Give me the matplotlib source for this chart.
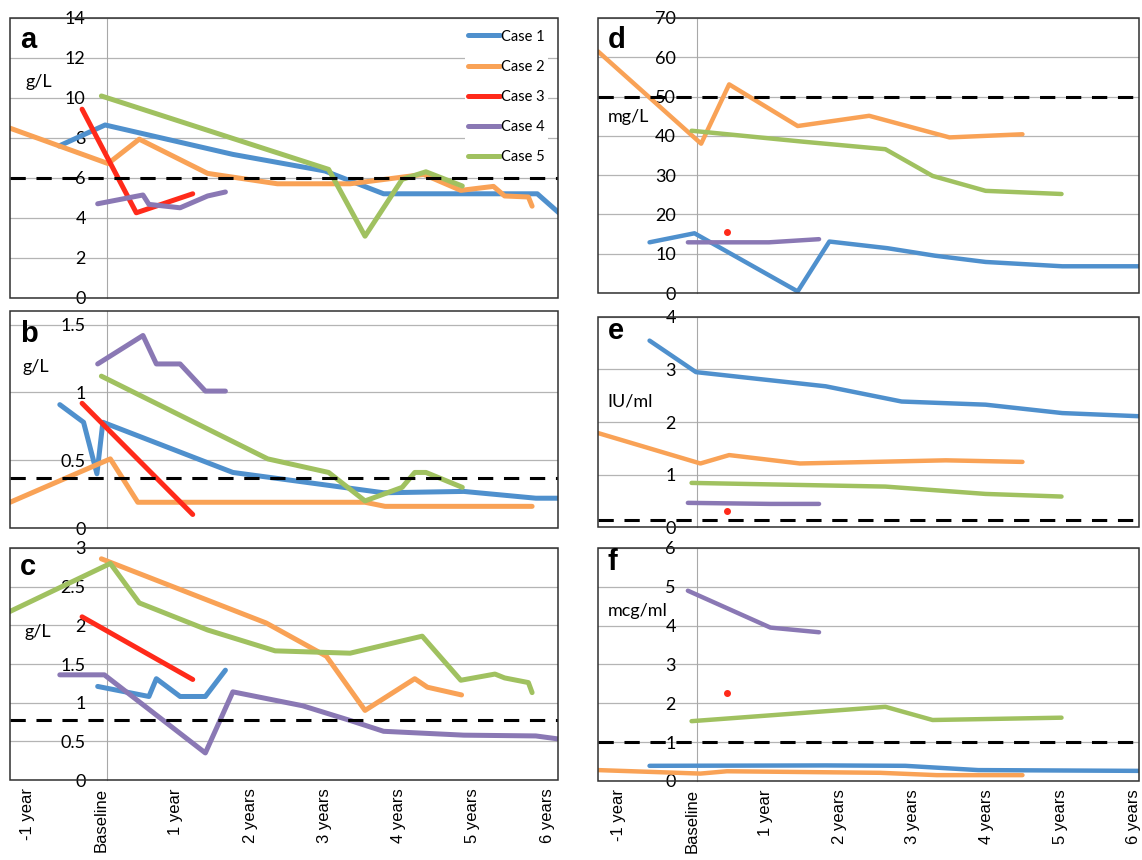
import matplotlib
matplotlib.use('Agg')
import matplotlib.pyplot as plt
import matplotlib.transforms as mtransforms
from matplotlib.patches import Rectangle
from matplotlib.ticker import FuncFormatter

# time in years from baseline
# panel a (g/L)
a1_t = [-0.64, -0.02, 1.70, 2.94, 3.73, 5.80, 6.09]
a1_v = [7.6, 8.65, 7.18, 6.35, 5.21, 5.21, 4.26]
a2_t = [-1.30, 0.02, 0.44, 1.36, 2.30, 3.28, 4.27, 4.77, 5.21, 5.36, 5.68, 5.73]
a2_v = [8.49, 6.72, 7.94, 6.23, 5.71, 5.71, 6.18, 5.38, 5.58, 5.10, 5.05, 4.59]
a3_t = [-0.33, 0.40, 1.16]
a3_v = [9.44, 4.26, 5.21]
a4_t = [-0.12, 0.49, 0.57, 0.99, 1.36, 1.60]
a4_v = [4.71, 5.15, 4.68, 4.51, 5.10, 5.30]
a5_t = [-0.07, 2.99, 3.48, 3.98, 4.30, 4.79]
a5_v = [10.1, 6.43, 3.09, 5.93, 6.31, 5.60]
# panel b (g/L)
b1_t = [-0.63, -0.31, -0.13, -0.05, 1.70, 3.73, 4.81, 5.78, 6.09]
b1_v = [0.91, 0.78, 0.40, 0.78, 0.41, 0.26, 0.27, 0.22, 0.22]
b2_t = [-1.30, 0.05, 0.42, 3.48, 3.75, 5.73]
b2_v = [0.19, 0.51, 0.19, 0.19, 0.16, 0.16]
b3_t = [-0.33, 1.16]
b3_v = [0.92, 0.10]
b4_t = [-0.12, 0.49, 0.67, 0.99, 1.33, 1.60]
b4_v = [1.21, 1.42, 1.21, 1.21, 1.01, 1.01]
b5_t = [-0.07, 2.17, 2.99, 3.48, 3.98, 4.15, 4.30, 4.79]
b5_v = [1.12, 0.51, 0.41, 0.20, 0.30, 0.41, 0.41, 0.30]
# panel c (g/L)
c1_t = [-0.12, 0.57, 0.67, 0.99, 1.33, 1.60]
c1_v = [1.21, 1.08, 1.31, 1.08, 1.08, 1.42]
c2_t = [-0.07, 2.15, 2.96, 3.48, 4.15, 4.32, 4.78]
c2_v = [2.86, 2.03, 1.60, 0.90, 1.31, 1.20, 1.10]
c3_t = [-0.33, 1.16]
c3_v = [2.11, 1.30]
c4_t = [-0.63, -0.03, 1.33, 1.70, 2.64, 3.28, 3.73, 4.81, 5.78, 6.09]
c4_v = [1.36, 1.36, 0.35, 1.14, 0.96, 0.77, 0.63, 0.58, 0.57, 0.53]
c5_t = [-1.30, 0.05, 0.44, 1.36, 2.27, 3.28, 4.25, 4.77, 5.23, 5.36, 5.68, 5.73]
c5_v = [2.18, 2.80, 2.29, 1.94, 1.67, 1.64, 1.86, 1.29, 1.37, 1.32, 1.26, 1.13]
# panel d (mg/L)
d1_t = [-0.64, -0.03, 1.37, 1.80, 2.59, 3.23, 3.92, 4.96, 6.0]
d1_v = [12.9, 15.2, 0.4, 13.1, 11.4, 9.5, 7.9, 6.8, 6.8]
d2_t = [-1.34, 0.06, 0.44, 1.37, 2.34, 3.43, 4.42]
d2_v = [61.5, 38.0, 53.1, 42.5, 45.1, 39.6, 40.4]
d3_t = [0.41]
d3_v = [15.4]
d4_t = [-0.12, 0.98, 1.66]
d4_v = [12.9, 12.9, 13.7]
d5_t = [-0.07, 1.45, 2.56, 3.20, 3.92, 4.95]
d5_v = [41.3, 38.5, 36.6, 29.8, 26.0, 25.2]
# panel e (IU/ml)
e1_t = [-0.64, -0.01, 1.75, 2.78, 3.92, 4.96, 6.0]
e1_v = [3.55, 2.95, 2.68, 2.39, 2.33, 2.17, 2.11]
e2_t = [-1.34, 0.05, 0.44, 1.40, 3.38, 4.42]
e2_v = [1.79, 1.21, 1.37, 1.21, 1.27, 1.24]
e3_t = [0.41]
e3_v = [0.30]
e4_t = [-0.12, 1.0, 1.66]
e4_v = [0.46, 0.44, 0.44]
e5_t = [-0.07, 2.56, 3.92, 4.95]
e5_v = [0.84, 0.77, 0.63, 0.58]
# panel f (mcg/ml)
f1_t = [-0.64, 1.75, 2.83, 3.82, 6.0]
f1_v = [0.39, 0.40, 0.39, 0.28, 0.26]
f2_t = [-1.34, 0.05, 0.41, 2.49, 3.26, 4.42]
f2_v = [0.28, 0.19, 0.25, 0.21, 0.15, 0.15]
f3_t = [0.41]
f3_v = [2.27]
f4_t = [-0.12, 1.0, 1.66]
f4_v = [4.90, 3.95, 3.83]
f5_t = [-0.07, 2.56, 3.20, 4.95]
f5_v = [1.54, 1.91, 1.57, 1.63]

case_names = ['Case 1', 'Case 2', 'Case 3', 'Case 4', 'Case 5']
case_colors = ['#4F90CD', '#F9A256', '#FF2A1A', '#8A78B4', '#A0C160']

x_ticks = [-1, 0, 1, 2, 3, 4, 5, 6]
x_labels = ['-1 year', 'Baseline', '1 year', '2 years', '3 years', '4 years', '5 years', '6 years']

fig = plt.figure(figsize=(11.42, 8.6), dpi=100)


def panel(rect, letter, unit, unit_xy, series, ymax, yticks, ref, xlim, lw, show_x, letter_y):
    ax = fig.add_axes(rect)
    for i, (t, v) in enumerate(series):
        if len(t) == 1:
            ax.plot(t, v, 'o', color=case_colors[i], ms=4, label=case_names[i])
        else:
            ax.plot(t, v, color=case_colors[i], lw=lw, solid_capstyle='round',
                    solid_joinstyle='round', label=case_names[i])
    ax.axhline(ref, color='black', lw=2.2, dashes=(5, 3.5), zorder=3)
    ax.set_xlim(xlim)
    ax.set_ylim(0, ymax)
    ax.set_yticks(yticks)
    ax.yaxis.set_major_formatter(FuncFormatter(lambda v, p: '{:g}'.format(v)))
    ax.grid(axis='y', color='#B4B4B4', lw=0.9)
    ax.set_axisbelow(True)
    # y axis sits at baseline like in Excel
    ax.spines['left'].set_position(('data', 0))
    ax.spines['left'].set_color('#A8A8A8')
    ax.spines['left'].set_zorder(1)
    for s in ['top', 'right', 'bottom']:
        ax.spines[s].set_visible(False)
    ax.add_patch(Rectangle((0, 0), 1, 1, transform=ax.transAxes, fill=False,
                           ec='#303030', lw=1.1, zorder=5, clip_on=False))
    ax.tick_params(axis='y', length=0, pad=15, labelsize=13)
    for lab in ax.get_yticklabels():
        lab.set_fontfamily('Lato')
    ax.set_xticks(x_ticks)
    if show_x:
        ax.set_xticklabels(x_labels, rotation=90, fontsize=12, family='Liberation Sans')
        ax.tick_params(axis='x', length=0, pad=6)
        shift = mtransforms.ScaledTranslation(-5 / 100, 0, fig.dpi_scale_trans)
        for lab in ax.get_xticklabels():
            lab.set_transform(lab.get_transform() + shift)
    else:
        ax.set_xticklabels([])
        ax.tick_params(axis='x', length=0)
    ax.text(0.018, letter_y, letter, transform=ax.transAxes, fontsize=21,
            fontweight='bold', family='Liberation Sans', ha='left', va='top', zorder=6)
    ax.text(unit_xy[0], unit_xy[1], unit, transform=ax.transAxes, fontsize=13,
            family='Lato', ha='left', va='center', zorder=6)
    return ax


left_x, left_w = 0.0088, 0.4799
right_x, right_w = 0.5236, 0.4737
xl_left = (-1.3, 6.08)
xl_right = (-1.34, 6.0)

ax_a = panel([left_x, 0.6535, left_w, 0.3256], 'a', 'g/L', (0.029, 0.77),
             [(a1_t, a1_v), (a2_t, a2_v), (a3_t, a3_v), (a4_t, a4_v), (a5_t, a5_v)],
             14, range(0, 15, 2), 6, xl_left, 3.6, False, 0.97)
leg = ax_a.legend(loc='upper right', bbox_to_anchor=(0.995, 0.995), fontsize=10.5,
                  labelspacing=1.1, handlelength=2.2, handletextpad=0.1,
                  borderpad=0.2, framealpha=1, edgecolor='none', fancybox=False)
for txt in leg.get_texts():
    txt.set_fontfamily('Lato')

panel([left_x, 0.386, left_w, 0.2523], 'b', 'g/L', (0.022, 0.74),
      [(b1_t, b1_v), (b2_t, b2_v), (b3_t, b3_v), (b4_t, b4_v), (b5_t, b5_v)],
      1.6, [0, 0.5, 1, 1.5], 0.37, xl_left, 3.6, False, 0.96)

panel([left_x, 0.093, left_w, 0.2698], 'c', 'g/L', (0.027, 0.64),
      [(c1_t, c1_v), (c2_t, c2_v), (c3_t, c3_v), (c4_t, c4_v), (c5_t, c5_v)],
      3, [0, 0.5, 1, 1.5, 2, 2.5, 3], 0.77, xl_left, 3.6, True, 0.98)

panel([right_x, 0.6593, right_w, 0.3198], 'd', 'mg/L', (0.018, 0.64),
      [(d1_t, d1_v), (d2_t, d2_v), (d3_t, d3_v), (d4_t, d4_v), (d5_t, d5_v)],
      70, range(0, 71, 10), 50, xl_right, 3.2, False, 0.97)

panel([right_x, 0.3872, right_w, 0.2442], 'e', 'IU/ml', (0.018, 0.60),
      [(e1_t, e1_v), (e2_t, e2_v), (e3_t, e3_v), (e4_t, e4_v), (e5_t, e5_v)],
      4, range(0, 5), 0.13, xl_right, 3.2, False, 1.0)

panel([right_x, 0.0919, right_w, 0.2709], 'f', 'mcg/ml', (0.018, 0.73),
      [(f1_t, f1_v), (f2_t, f2_v), (f3_t, f3_v), (f4_t, f4_v), (f5_t, f5_v)],
      6, range(0, 7), 1, xl_right, 3.2, True, 1.0)

fig.savefig('out.png', dpi=100)
